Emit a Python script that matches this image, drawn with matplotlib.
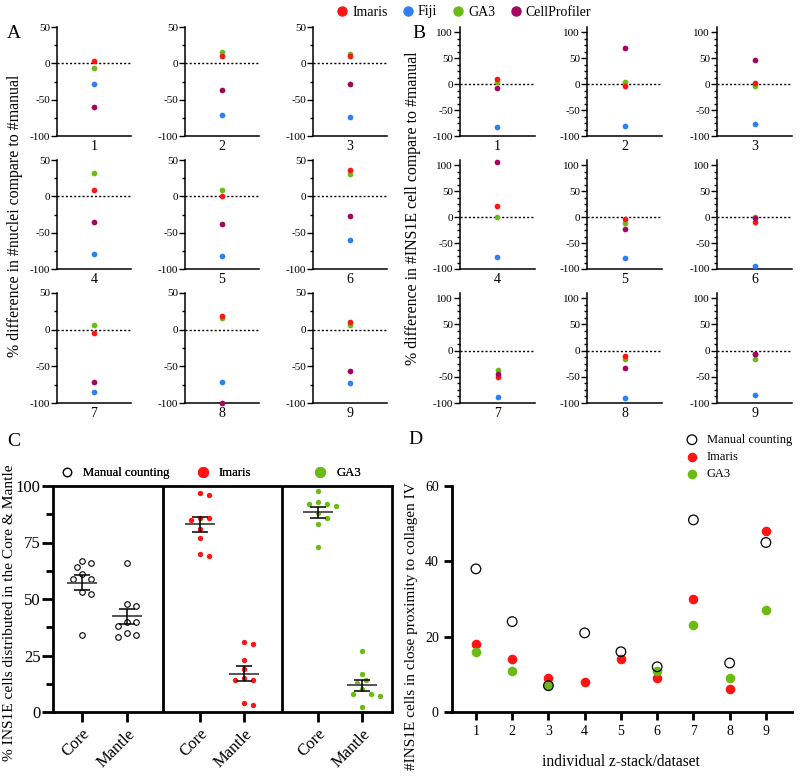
import numpy as np
import matplotlib
matplotlib.use("Agg")
import matplotlib.pyplot as plt
from matplotlib.lines import Line2D

plt.rcParams["font.family"] = "Liberation Serif"
plt.rcParams["axes.unicode_minus"] = False

# ---- data -------------------------------------------------------------
datasets = [1, 2, 3, 4, 5, 6, 7, 8, 9]

# A: % difference in #nuclei vs manual
nuclei_imaris = [3, 10, 10, 9, 0, 36, -4, 19, 11]
nuclei_fiji = [-28, -71, -74, -80, -82, -60, -85, -72, -73]
nuclei_ga3 = [-7, 15, 13, 32, 9, 31, 6, 16, 6]
nuclei_cellprofiler = [-60, -37, -29, -35, -38, -27, -71, -100, -56]

# B: % difference in #INS1E cells vs manual
ins1e_imaris = [10, -3, 2, 21, -3, -9, -51, -10, -7]
ins1e_fiji = [-82, -80, -76, -76, -79, -94, -89, -91, -85]
ins1e_ga3 = [5, 4, -3, 0, -12, 1, -37, -16, -16]
ins1e_cellprofiler = [-8, 70, 46, 107, -22, -2, -45, -34, -7]

# C: % INS1E cells in core / mantle
c_groups = ["Core", "Mantle", "Core", "Mantle", "Core", "Mantle"]
manual_core = [66, 67, 64, 61, 59, 59, 53, 52, 34]
manual_mantle = [66, 47, 48, 40, 40, 38, 33, 35, 34]
imaris_core = [97, 96, 85, 86, 86, 81, 77, 69, 70]
imaris_mantle = [31, 30, 23, 19, 14, 15, 14, 3, 4]
ga3_core = [98, 93, 91, 92, 92, 88, 86, 83, 73]
ga3_mantle = [27, 17, 14, 13, 8, 7, 8, 2, 10]

# D: #INS1E cells close to collagen IV
prox_manual = [38, 24, 7, 21, 16, 12, 51, 13, 45]
prox_imaris = [18, 14, 9, 8, 14, 9, 30, 6, 48]
prox_ga3 = [16, 11, 7, np.nan, np.nan, 11, 23, 9, 27]

col = {"Imaris": "#ff1414", "Fiji": "#2f7ff5", "GA3": "#6cbb14", "CellProfiler": "#a4065e"}

W, H = 800, 776
fig = plt.figure(figsize=(8, 7.76), dpi=100)


def px_axes(l, t, r, b):
    return fig.add_axes([l / W, 1 - b / H, (r - l) / W, (b - t) / H])


def small_panel(ax, k, series, ylim, majors, minors):
    for name in ["Fiji", "GA3", "Imaris", "CellProfiler"]:
        ax.scatter([k], [series[name][k - 1]], s=17, color=col[name], lw=0, zorder=3, clip_on=False)
    ax.axhline(0, color="black", lw=1, ls=(0, (1.5, 1.5)), zorder=1)
    ax.set_xlim(k - 0.5, k + 0.5)
    ax.set_ylim(*ylim)
    ax.set_xticks([k])
    ax.set_xticklabels([str(k)], fontsize=10)
    ax.set_yticks(majors)
    ax.set_yticks(minors, minor=True)
    ax.tick_params(axis="x", length=0, pad=3)
    ax.tick_params(axis="y", which="major", length=4, width=1, labelsize=8, pad=1)
    ax.tick_params(axis="y", which="minor", length=2.5, width=1)
    for s in ["top", "right"]:
        ax.spines[s].set_visible(False)
    for s in ["left", "bottom"]:
        ax.spines[s].set_linewidth(1.1)


rows = [(27, 136), (160, 269), (293, 403)]
nuc = {"Imaris": nuclei_imaris, "Fiji": nuclei_fiji, "GA3": nuclei_ga3, "CellProfiler": nuclei_cellprofiler}
ins = {"Imaris": ins1e_imaris, "Fiji": ins1e_fiji, "GA3": ins1e_ga3, "CellProfiler": ins1e_cellprofiler}
for i, (t, b) in enumerate(rows):
    for j, l in enumerate([57, 185, 313]):
        k = datasets[i * 3 + j]
        ax = px_axes(l, t, l + 74, b)
        small_panel(ax, k, nuc, (-100, 50), [-100, -50, 0, 50], np.arange(-100, 51, 25))
    for j, l in enumerate([460, 587, 717]):
        k = datasets[i * 3 + j]
        ax = px_axes(l, t, l + 75, b)
        small_panel(ax, k, ins, (-100, 110), [-100, -50, 0, 50, 100], np.arange(-100, 101, 12.5))

fig.text(15 / W, 1 - 216 / H, "% difference in #nuclei compare to #manual", rotation=90,
         ha="center", va="center", fontsize=11.4)
fig.text(413 / W, 1 - 208 / H, "% difference in #INS1E cell compare to #manual", rotation=90,
         ha="center", va="center", fontsize=11.4)
fig.text(7 / W, 1 - 34 / H, "A", fontsize=14, va="center")
fig.text(412 / W, 1 - 34 / H, "B", fontsize=14, va="center")
fig.text(7 / W, 1 - 441 / H, "C", fontsize=14, va="center")
fig.text(408 / W, 1 - 439 / H, "D", fontsize=14, va="center")

top_handles = [Line2D([], [], ls="", marker="o", ms=6.5, color=col[n]) for n in col]
fig.legend(top_handles, list(col.keys()), ncol=4, loc="center", bbox_to_anchor=(0.579, 1 - 12 / H),
           frameon=False, handletextpad=0.2, columnspacing=1.0, handlelength=1, fontsize=10)


# ---- C ------------------------------------------------------------------
def swarm(vals, sx, sy, d=7.0, step=0.1):
    order = np.argsort(vals)[::-1]
    placed = []
    offs = np.zeros(len(vals))
    for idx in order:
        v = vals[idx]
        for n in range(20):
            c = ((n + 1) // 2) * step * (1 if n % 2 else -1) if n else 0.0
            if all(np.hypot((c - o) * sx, (v - w) * sy) >= d for o, w in placed):
                break
        placed.append((c, v))
        offs[idx] = c
    return offs


axc = px_axes(53, 486, 392, 712)
xpos = [0, 1, 2.62, 3.6, 5.24, 6.22]
c_sets = [manual_core, manual_mantle, imaris_core, imaris_mantle, ga3_core, ga3_mantle]
c_cols = ["none", "none", col["Imaris"], col["Imaris"], col["GA3"], col["GA3"]]
for x, vals, fc in zip(xpos, c_sets, c_cols):
    vals = np.array(vals, dtype=float)
    off = swarm(vals, 45.0, 2.26)
    if fc == "none":
        axc.scatter(x + off, vals, s=16, facecolor="white", edgecolor="black", lw=0.8, zorder=3)
    else:
        axc.scatter(x + off, vals, s=15, color=fc, lw=0, zorder=3)
    m = vals.mean()
    sem = vals.std(ddof=1) / np.sqrt(len(vals))
    axc.hlines(m, x - 0.33, x + 0.33, color="#555555", lw=1.4, zorder=4)
    axc.errorbar([x], [m], yerr=[sem], color="black", lw=1.1, capsize=6, capthick=1.1, zorder=4)
for xd in [1.8, 4.44]:
    axc.axvline(xd, color="black", lw=2)
axc.set_xlim(-0.64, 6.89)
axc.set_ylim(0, 100)
axc.set_xticks(xpos)
axc.set_xticklabels(c_groups, rotation=45, ha="right", rotation_mode="anchor", fontsize=12)
axc.set_yticks([0, 25, 50, 75, 100])
axc.set_yticks(np.arange(0, 101, 12.5), minor=True)
axc.tick_params(axis="y", which="major", length=8, width=2, labelsize=12, pad=1)
axc.tick_params(axis="y", which="minor", length=5, width=2)
axc.tick_params(axis="x", length=7, width=2, pad=3)
for s in axc.spines.values():
    s.set_linewidth(2)
fig.text(10 / W, 1 - 613 / H, "% INS1E cells distributed in the Core & Mantle", rotation=90,
         ha="center", va="center", fontsize=11.1)

c_leg = [("Manual counting", Line2D([], [], ls="", marker="o", ms=6, mfc="white", mec="black", mew=0.9), 67),
         ("Imaris", Line2D([], [], ls="", marker="o", ms=7, color=col["Imaris"]), 203),
         ("GA3", Line2D([], [], ls="", marker="o", ms=7, color=col["GA3"]), 320)]
for lab, h, xm in c_leg:
    lg = fig.legend([h], [lab], loc="center left", bbox_to_anchor=((xm - 6.3) / W, 1 - 473 / H),
                    frameon=False, borderpad=0, borderaxespad=0, handlelength=1, handletextpad=0.75,
                    fontsize=9.2)
    fig.add_artist(lg)

# ---- D ------------------------------------------------------------------
axd = px_axes(452, 486, 792, 712)
axd.scatter(datasets, prox_imaris, s=48, color=col["Imaris"], lw=0, zorder=3, label="Imaris")
axd.scatter(datasets, prox_ga3, s=48, color=col["GA3"], lw=0, zorder=4, label="GA3")
axd.scatter(datasets, prox_manual, s=48, facecolor="none", edgecolor="black", lw=0.9, zorder=5,
            label="Manual counting")
axd.set_xlim(0.34, 9.72)
axd.set_ylim(0, 60)
axd.set_xticks(datasets)
axd.set_yticks([0, 20, 40, 60])
axd.tick_params(axis="both", length=6, width=2, labelsize=10)
for s in ["top", "right"]:
    axd.spines[s].set_visible(False)
for s in ["left", "bottom"]:
    axd.spines[s].set_linewidth(2)
fig.text(621 / W, 1 - 762 / H, "individual z-stack/dataset", ha="center", va="center", fontsize=11.2)
fig.text(412 / W, 1 - 626 / H, "#INS1E cells in close proximity to collagen IV", rotation=90,
         ha="center", va="center", fontsize=11)
h, l = axd.get_legend_handles_labels()
fig.legend([h[2], h[0], h[1]], [l[2], l[0], l[1]], loc="upper left",
           bbox_to_anchor=((692 - 6.3) / W, 1 - 434 / H), frameon=False, borderpad=0, borderaxespad=0,
           handlelength=1, handletextpad=0.7, labelspacing=0.4, fontsize=9)

fig.savefig("out.png", dpi=100)
